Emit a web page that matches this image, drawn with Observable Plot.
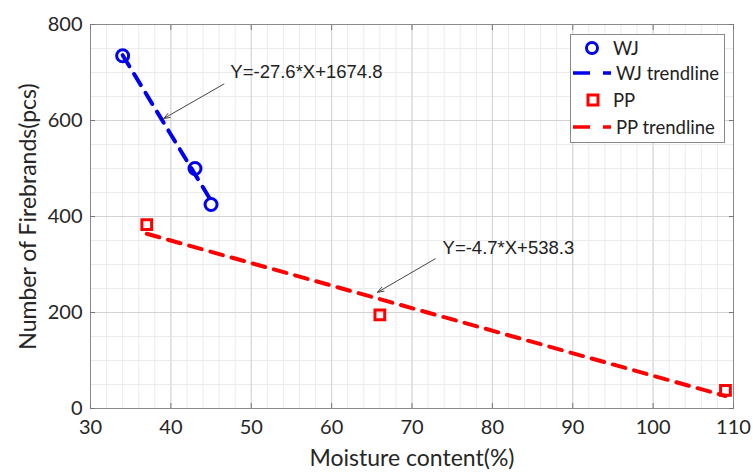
<!DOCTYPE html>
<html>
<head>
<meta charset="utf-8">
<script src="https://cdn.jsdelivr.net/npm/d3@7"></script>
<script src="https://cdn.jsdelivr.net/npm/@observablehq/plot@0.6"></script>
<style>
  html, body { margin: 0; padding: 0; background: #fff; }
  #wrap { position: relative; width: 753px; height: 475px; }
  #legend {
    position: absolute; left: 570px; top: 34px; width: 155px; height: 109px;
    border: 1px solid #8a8a8a; background: #fff; box-sizing: border-box;
    font-family: Lato, "Open Sans", sans-serif; font-size: 18.5px; color: #222;
  }
  #legend .row { position: absolute; left: 0; height: 22px; display: flex; align-items: center; }
  #legend svg { display: block; }
</style>
</head>
<body>
<div id="wrap">
  <div id="chart"></div>
  <div id="legend"></div>
</div>
<script>
// ---- data ----
const wjMoisture = [34, 43, 45];
const wjFirebrands = [735, 500, 425];
const ppMoisture = [37, 66, 109];
const ppFirebrands = [383, 195, 38];

// trendline endpoints
const wjTrendX = [34, 45];
const wjTrendY = [736, 433];
const ppTrendX = [37, 109];
const ppTrendY = [364, 26];

// annotations
const annoText = ["Y=-27.6*X+1674.8", "Y=-4.7*X+538.3"];
const annoTextX = [47.4, 73.8];
const annoTextY = [700, 335];
const arrowX1 = [46.6, 72.9];
const arrowY1 = [676, 312];
const arrowX2 = [39.1, 65.7];
const arrowY2 = [604, 242];

const xTicks = [30, 40, 50, 60, 70, 80, 90, 100, 110];
const yTicks = [0, 200, 400, 600, 800];
const xMinor = d3.range(30, 111, 2);
const yMinor = d3.range(0, 801, 50);

const xLabel = "Moisture content(%)";
const yLabel = "Number of Firebrands(pcs)";
const legendLabels = ["WJ", "WJ trendline", "PP", "PP trendline"];

const BLUE = "#0000f0";
const RED = "#ff0000";

const wj = wjMoisture.map((x, i) => ({x, y: wjFirebrands[i]}));
const pp = ppMoisture.map((x, i) => ({x, y: ppFirebrands[i]}));
const wjT = wjTrendX.map((x, i) => ({x, y: wjTrendY[i]}));
const ppT = ppTrendX.map((x, i) => ({x, y: ppTrendY[i]}));
const annos = annoText.map((t, i) => ({t, x: annoTextX[i], y: annoTextY[i]}));
const arrows = arrowX1.map((x1, i) => ({x1, y1: arrowY1[i], x2: arrowX2[i], y2: arrowY2[i]}));

const chart = Plot.plot({
  width: 753,
  height: 475,
  marginLeft: 90,
  marginRight: 20,
  marginTop: 24,
  marginBottom: 67,
  style: {fontFamily: "Lato, 'Open Sans', sans-serif", fontSize: "20px", color: "#262626", background: "#fff"},
  x: {domain: [30, 110], ticks: xTicks, label: null},
  y: {domain: [0, 800], ticks: yTicks, label: null},
  marks: [
    Plot.ruleX(xMinor, {stroke: "#ebebeb", strokeWidth: 1}),
    Plot.ruleY(yMinor, {stroke: "#ebebeb", strokeWidth: 1}),
    Plot.ruleX(xTicks, {stroke: "#d2d2d2", strokeWidth: 1}),
    Plot.ruleY(yTicks, {stroke: "#d2d2d2", strokeWidth: 1}),
    Plot.frame({stroke: "#8a8a8a", strokeWidth: 1}),
    Plot.axisX({ticks: xTicks, tickSize: -5, stroke: "#777", tickPadding: 16, fontSize: 20, label: null}),
    Plot.axisY({ticks: yTicks, tickSize: -5, stroke: "#777", tickPadding: 13, fontSize: 20, label: null}),
    Plot.axisX({anchor: "top", ticks: xTicks, tickSize: -5, stroke: "#777", tickFormat: () => "", label: null}),
    Plot.axisY({anchor: "right", ticks: yTicks, tickSize: -5, stroke: "#777", tickFormat: () => "", label: null}),
    Plot.text([xLabel], {frameAnchor: "bottom", dy: 57, fontSize: 23, fill: "#262626"}),
    Plot.text([yLabel], {frameAnchor: "left", textAnchor: "middle", lineAnchor: "middle", dx: -62, rotate: -90, fontSize: 23, fill: "#262626"}),
    Plot.line(wjT, {x: "x", y: "y", stroke: BLUE, strokeWidth: 4, strokeDasharray: "13,9"}),
    Plot.line(ppT, {x: "x", y: "y", stroke: RED, strokeWidth: 4, strokeDasharray: "13,9"}),
    Plot.dot(wj, {x: "x", y: "y", r: 6, stroke: BLUE, strokeWidth: 3, fill: "none"}),
    Plot.dot(pp, {x: "x", y: "y", symbol: "square", r: 5.5, stroke: RED, strokeWidth: 3, fill: "none"}),
    Plot.arrow(arrows, {x1: "x1", y1: "y1", x2: "x2", y2: "y2", stroke: "#444", strokeWidth: 1, headLength: 10, headAngle: 40}),
    Plot.text(annos, {x: "x", y: "y", text: "t", textAnchor: "start", fontFamily: "'Liberation Sans', Arial, sans-serif", fontSize: 18.5, fill: "#222"})
  ]
});
document.getElementById("chart").appendChild(chart);

// legend
const lg = d3.select("#legend");
const rowTops = [2, 27, 54, 81];
legendLabels.forEach((lab, i) => {
  const row = lg.append("div").attr("class", "row").style("top", rowTops[i] + "px");
  const s = row.append("svg").attr("width", 45).attr("height", 22);
  const color = i < 2 ? BLUE : RED;
  if (i === 0) s.append("circle").attr("cx", 21).attr("cy", 11).attr("r", 5.5).attr("fill", "none").attr("stroke", color).attr("stroke-width", 3);
  if (i === 2) s.append("rect").attr("x", 17).attr("y", 6).attr("width", 10).attr("height", 10).attr("fill", "none").attr("stroke", color).attr("stroke-width", 3);
  if (i === 1 || i === 3) s.append("line").attr("x1", 2).attr("x2", 40).attr("y1", 11).attr("y2", 11).attr("stroke", color).attr("stroke-width", 3.5).attr("stroke-dasharray", "17,13");
  row.append("span").text(lab).style("margin-left", (i === 1 || i === 3) ? "0px" : "-3px");
});
</script>
</body>
</html>
